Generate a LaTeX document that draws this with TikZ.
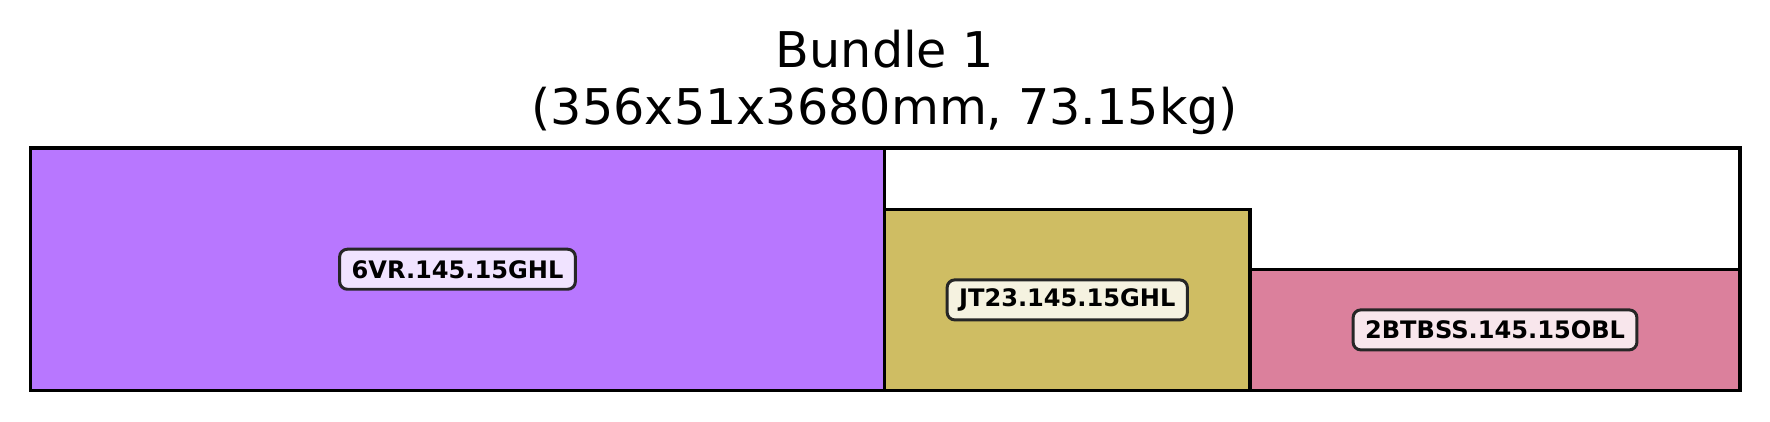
\documentclass[tikz,border=0pt]{standalone}
\usepackage{fontspec}
\setmainfont{DejaVu Sans}
\definecolor{barpurple}{RGB}{184,119,255}
\definecolor{bargold}{RGB}{207,189,99}
\definecolor{barpink}{RGB}{219,128,156}
\definecolor{tagpurple}{RGB}{240,227,255}
\definecolor{taggold}{RGB}{245,242,224}
\definecolor{tagpink}{RGB}{248,230,236}
\tikzset{tag/.style={draw=black!85,line width=0.85pt,rounded corners=2.2pt,
  inner xsep=0.12cm,inner ysep=0pt,minimum height=0.40cm,
  font=\fontsize{6.85}{8}\selectfont\bfseries}}

\begin{document}
\begin{tikzpicture}[x=0.01cm,y=0.01cm,line width=0.9pt]
\useasboundingbox (0,0) rectangle (1770,422);
\node[anchor=base,font=\fontsize{14}{17}\selectfont] (title) at (885,354.3) {Bundle 1};
\node[anchor=base,font=\fontsize{14}{17}\selectfont] (size) at (885,297) {(356x51x3680mm, 73.15kg)};
\fill[barpurple] (30.5,31.5) rectangle (884.5,274); \draw (30.5,31.5) rectangle (884.5,274);
\fill[bargold] (884.5,31.5) rectangle (1250,212.7); \draw (884.5,31.5) rectangle (1250,212.7);
\fill[barpink] (1250,31.5) rectangle (1740,152.7); \draw (1250,31.5) rectangle (1740,152.7);
\draw (30.5,31.5) rectangle (1740,274);
\node[tag,fill=tagpurple] (vr) at (457.5,152.75) {6VR.145.15GHL};
\node[tag,fill=taggold] (jt) at (1067.25,122.1) {JT23.145.15GHL};
\node[tag,fill=tagpink] (bt) at (1495,92.1) {2BTBSS.145.15OBL};
\end{tikzpicture}
\end{document}
